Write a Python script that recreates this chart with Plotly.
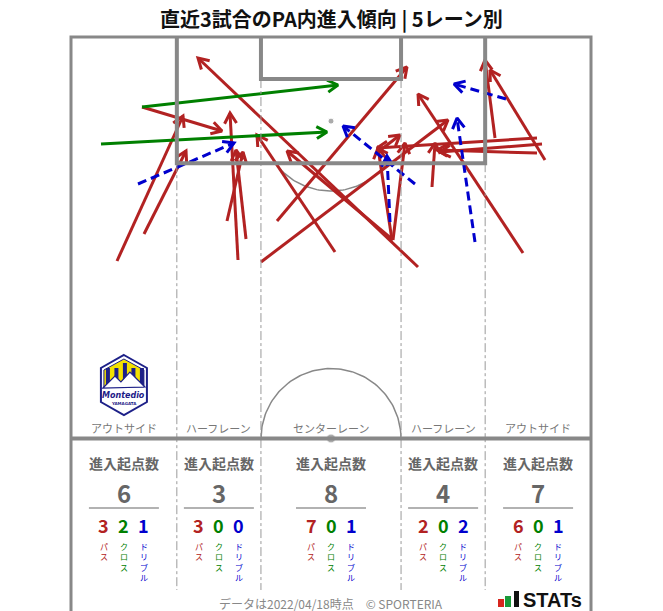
import numpy as np
import plotly.graph_objects as go

FONT = "Noto Sans CJK JP, Noto Sans, sans-serif"
RED, GREEN, BLUE = "#b22222", "#008000", "#0000cd"
LINE = "#888888"
NAVY, YELLOW = "#1d2088", "#f3e100"

TITLE = "直近3試合のPA内進入傾向 | 5レーン別"
LANE_NAMES = ["アウトサイド", "ハーフレーン", "センターレーン", "ハーフレーン", "アウトサイド"]
STAT_HEADER = "進入起点数"
TOTALS = [6, 3, 8, 4, 7]
PASSES = [3, 3, 7, 2, 6]
CROSSES = [2, 0, 0, 0, 0]
DRIBBLES = [1, 0, 1, 2, 1]
KIND_LABELS = ["パス", "クロス", "ドリブル"]
FOOTER = "データは2022/04/18時点　© SPORTERIA"

# arrows in pitch units (origin = left corner of the goal line, y grows toward halfway line)
pass_x0 = [46, 73, 71, 167, 156, 175, 206, 190, 264, 322, 322, 321, 307, 347, 361, 452, 424, 474, 466, 471, 466]
pass_y0 = [224, 197, 70, 223, 184, 202, 184, 225, 215, 203, 203, 203, 115, 230, 150, 216, 101, 123, 101, 107, 116]
pass_x1 = [112, 115, 151, 159, 172, 165, 336, 377, 186, 216, 334, 307, 329, 127, 364, 347, 414, 419, 306, 369, 366]
pass_y1 = [79, 114, 94, 76, 115, 113, 30, 83, 98, 114, 106, 111, 98, 21, 106, 57, 23, 33, 111, 115, 113]

cross_x0 = [71, 30]
cross_y0 = [70, 107]
cross_x1 = [267, 256]
cross_y1 = [48, 95]

drib_x0 = [67, 344, 319, 404, 435]
drib_y0 = [147, 147, 185, 205, 62]
drib_x1 = [163, 272, 316, 386, 383]
drib_y1 = [106, 89, 119, 81, 47]

# pitch geometry (metres) and scale
PITCH_W_M, HALF_L_M = 68.0, 52.5
BOX_W_M, BOX_D_M = 40.32, 16.5
GA_W_M, GA_D_M = 18.32, 5.5
SPOT_M, CIRCLE_R_M = 11.0, 9.15
S = 520 / PITCH_W_M
W = PITCH_W_M * S
HL = HALF_L_M * S
bx0, bx1 = (PITCH_W_M - BOX_W_M) / 2 * S, (PITCH_W_M + BOX_W_M) / 2 * S
gx0, gx1 = (PITCH_W_M - GA_W_M) / 2 * S, (PITCH_W_M + GA_W_M) / 2 * S
bd, gd = BOX_D_M * S, GA_D_M * S
cx = W / 2
R = CIRCLE_R_M * S
lane_edges = [0, bx0, gx0, gx1, bx1, W]
lane_centers = [(lane_edges[i] + lane_edges[i + 1]) / 2 for i in range(5)]

X0, Y0 = -71, -37  # figure origin in pitch units
FIG_W, FIG_H = 663, 611
BOTTOM = Y0 + FIG_H

fig = go.Figure()
shapes = []


def seg(x0, y0, x1, y1, color=LINE, width=3, dash=None):
    d = dict(type="line", xref="x", yref="y", x0=x0, y0=y0, x1=x1, y1=y1,
             line=dict(color=color, width=width))
    if dash:
        d["line"]["dash"] = dash
    shapes.append(d)


# lane dividers
for xe, ys in [(bx0, bd), (gx0, gd), (gx1, gd), (bx1, bd)]:
    seg(xe, ys, xe, 553, color="#9a9a9a", width=1, dash="dashdot")

# outer lines
shapes.append(dict(type="path", xref="x", yref="y",
                   path=f"M0,{BOTTOM} L0,0 L{W},0 L{W},{BOTTOM}",
                   line=dict(color=LINE, width=3)))
seg(0, HL, W, HL, width=4)
shapes.append(dict(type="path", xref="x", yref="y",
                   path=f"M{bx0},0 L{bx0},{bd} L{bx1},{bd} L{bx1},0",
                   line=dict(color=LINE, width=4)))
shapes.append(dict(type="path", xref="x", yref="y",
                   path=f"M{gx0},0 L{gx0},{gd} L{gx1},{gd} L{gx1},0",
                   line=dict(color=LINE, width=4)))

# arcs
sy = SPOT_M * S
th0 = np.arcsin((bd - sy) / R)
th = np.linspace(th0, np.pi - th0, 60)
fig.add_trace(go.Scatter(x=cx + R * np.cos(th), y=sy + R * np.sin(th), mode="lines",
                         line=dict(color=LINE, width=1.5), hoverinfo="skip", showlegend=False))
th = np.linspace(np.pi, 2 * np.pi, 100)
fig.add_trace(go.Scatter(x=cx + R * np.cos(th), y=HL + R * np.sin(th), mode="lines",
                         line=dict(color=LINE, width=1.5), hoverinfo="skip", showlegend=False))
fig.add_trace(go.Scatter(x=[cx, cx], y=[sy, HL], mode="markers",
                         marker=dict(color=LINE, size=[6, 9]), hoverinfo="skip", showlegend=False))


def arrow_paths(x0s, y0s, x1s, y1s, L=12, ang=np.radians(30)):
    sx, syy, hx, hy = [], [], [], []
    for a, b, c, d in zip(x0s, y0s, x1s, y1s):
        sx += [a, c, None]
        syy += [b, d, None]
        ux, uy = a - c, b - d
        n = np.hypot(ux, uy)
        ux, uy = ux / n, uy / n
        pts = []
        for sgn in (1, -1):
            ca, sa = np.cos(sgn * ang), np.sin(sgn * ang)
            pts.append((c + L * (ux * ca - uy * sa), d + L * (ux * sa + uy * ca)))
        hx += [pts[0][0], c, pts[1][0], None]
        hy += [pts[0][1], d, pts[1][1], None]
    return sx, syy, hx, hy


for xs0, ys0, xs1, ys1, col, dash in [
    (pass_x0, pass_y0, pass_x1, pass_y1, RED, "solid"),
    (cross_x0, cross_y0, cross_x1, cross_y1, GREEN, "solid"),
    (drib_x0, drib_y0, drib_x1, drib_y1, BLUE, "9px,5px"),
]:
    sx, syy, hx, hy = arrow_paths(xs0, ys0, xs1, ys1)
    fig.add_trace(go.Scatter(x=sx, y=syy, mode="lines", line=dict(color=col, width=3, dash=dash),
                             hoverinfo="skip", showlegend=False))
    fig.add_trace(go.Scatter(x=hx, y=hy, mode="lines", line=dict(color=col, width=3),
                             hoverinfo="skip", showlegend=False))

ann = []


def text(x, y, t, size, color, bold=False, xanchor="center", yanchor="middle", family=FONT):
    s = f"<b>{t}</b>" if bold else t
    ann.append(dict(x=x, y=y, xref="x", yref="y", text=s, showarrow=False,
                    font=dict(family=family, size=size, color=color),
                    xanchor=xanchor, yanchor=yanchor, borderpad=0))


text(cx, -19, TITLE, 20, "#111111", bold=True)

kinds = [(PASSES, RED), (CROSSES, GREEN), (DRIBBLES, BLUE)]
for i, lc in enumerate(lane_centers):
    text(lc, 391, LANE_NAMES[i], 11, "#777777")
    text(lc, 426, STAT_HEADER, 14, "#666666", bold=True)
    text(lc, 455, str(TOTALS[i]), 24, "#666666", bold=True)
    seg(lc - 35, 471, lc + 35, 471, color="#666666", width=1.2)
    for k, (vals, col) in enumerate(kinds):
        xk = lc + (k - 1) * 20
        text(xk, 502, str(vals[i]), 18, col, bold=True, yanchor="bottom")
        text(xk, 503, "<br>".join(KIND_LABELS[k]), 8, col, yanchor="top")

text(cx, 566, FOOTER, 12, "#888888")

# STATs logo
shapes.append(dict(type="rect", xref="x", yref="y", x0=427, x1=433, y0=562, y1=570,
                   fillcolor="#d7261e", line=dict(width=0)))
shapes.append(dict(type="rect", xref="x", yref="y", x0=434, x1=440, y0=559, y1=570,
                   fillcolor="#1a9a3a", line=dict(width=0)))
shapes.append(dict(type="rect", xref="x", yref="y", x0=443, x1=448, y0=554, y1=570,
                   fillcolor="#111111", line=dict(width=0)))
text(451, 563, "STATs", 20, "#111111", bold=True, xanchor="left",
     family="Liberation Sans, Arial, sans-serif")

# club badge
lc0 = lane_centers[0]
shapes.append(dict(type="path", xref="x", yref="y",
                   path=f"M{lc0},318 L{lc0+23},331 L{lc0+23},365 L{lc0},378 L{lc0-23},365 L{lc0-23},331 Z",
                   fillcolor="white", line=dict(color=NAVY, width=2)))
shapes.append(dict(type="path", xref="x", yref="y",
                   path=f"M{lc0},322 L{lc0+20},333 L{lc0+20},350 L{lc0-20},350 L{lc0-20},333 Z",
                   fillcolor=YELLOW, line=dict(color=NAVY, width=1)))
for k in range(5):
    xs = lc0 - 18 + k * 8.5
    shapes.append(dict(type="rect", xref="x", yref="y", x0=xs, x1=xs + 4, y0=326 if k == 2 else 331, y1=350,
                       fillcolor=NAVY, line=dict(width=0)))
shapes.append(dict(type="path", xref="x", yref="y",
                   path=f"M{lc0-21},351 L{lc0-9},339 L{lc0-3},345 L{lc0+6},335 L{lc0+21},350 Z",
                   fillcolor="white", line=dict(color=NAVY, width=1.2)))
text(lc0, 358, "<i>Montedio</i>", 8, NAVY, bold=True, family="DejaVu Sans, sans-serif")
text(lc0, 366, "YAMAGATA", 4, NAVY, bold=True, family="DejaVu Sans, sans-serif")

fig.update_layout(
    width=FIG_W, height=FIG_H, autosize=False,
    margin=dict(l=0, r=0, t=0, b=0),
    paper_bgcolor="white", plot_bgcolor="white",
    xaxis=dict(range=[X0, X0 + FIG_W], visible=False, fixedrange=True),
    yaxis=dict(range=[Y0 + FIG_H, Y0], visible=False, fixedrange=True),
    shapes=shapes, annotations=ann, showlegend=False,
)
fig.write_html("out.html", config={"displayModeBar": False},
               post_script="document.body.style.margin='0';")
